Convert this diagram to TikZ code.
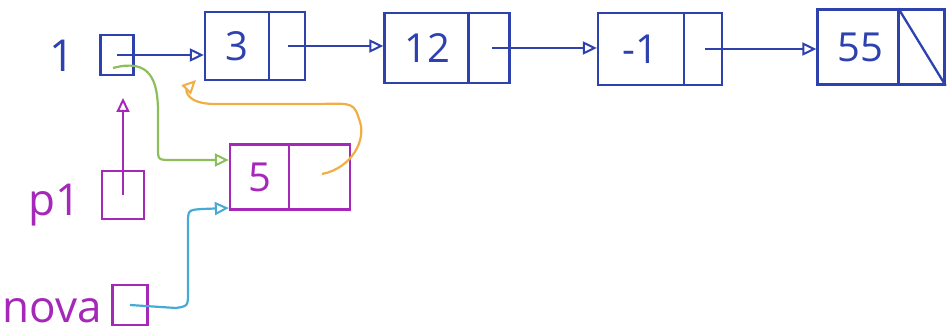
\documentclass[tikz,border=0pt]{standalone}
\usepackage{fontspec}
\setmainfont{Open Sans}
\usetikzlibrary{arrows.meta}
\definecolor{penblue}{RGB}{45,65,175}
\definecolor{penpurple}{RGB}{165,40,185}
\definecolor{pengreen}{RGB}{140,190,90}
\definecolor{penorange}{RGB}{240,175,70}
\definecolor{pencyan}{RGB}{70,170,215}
\tikzset{
  cell/.style={draw, line width=2.3pt, minimum width=#1, inner sep=0pt},
  val/.style={font=\fontsize{40}{44}\selectfont, inner sep=0pt},
  lbl/.style={font=\fontsize{44}{48}\selectfont, inner sep=0pt},
  ptr/.style={line width=2.2pt, -{Triangle[open,length=14pt,width=13pt,line width=2pt]}},
  div/.style={line width=2.3pt},
}
\begin{document}
\begin{tikzpicture}[x=1pt,y=-1pt]
\useasboundingbox (0,0) rectangle (952,331);
% list nodes (blue)
\begin{scope}[penblue]
\node[cell=100pt, minimum height=68pt] (n3) at (255,46) {};
\node[cell=125pt, minimum height=70pt] (n12) at (447,48) {};
\node[cell=124pt, minimum height=72pt] (nm1) at (660,49) {};
\node[cell=127pt, minimum height=75pt] (n55) at (881,47) {};
\draw[div] (n3.north west) ++(65,0) coordinate (d3t) -- (d3t |- n3.south);
\draw[div] (n12.north west) ++(85,0) coordinate (d12t) -- (d12t |- n12.south);
\draw[div] (nm1.north west) ++(87,0) coordinate (dm1t) -- (dm1t |- nm1.south);
\draw[div] (n55.north west) ++(82,0) coordinate (d55t) -- (d55t |- n55.south);
\draw[div] (d55t) -- (n55.south east);
\node[val] (v3) at (237,46) {3};
\node[val] (v12) at (427,48) {12};
\node[val] (vm1) at (640,49) {-1};
\node[val] (v55) at (860,47) {55};
\node[cell=33pt, minimum height=40pt] (l) at (117,55) {};
\node[lbl, anchor=base] (llbl) at (62,72) {1};
\coordinate (p3) at (288,46);
\coordinate (p12) at (492,48);
\coordinate (pm1) at (705,49);
\draw[ptr] (l.center) -- (n3.west |- l.center);
\draw[ptr] (p3) -- (n12.west |- p3);
\draw[ptr] (p12) -- (nm1.west |- p12);
\draw[ptr] (pm1) -- (n55.west |- pm1);
\end{scope}
% new node and pointers (purple)
\begin{scope}[penpurple]
\node[cell=120pt, minimum height=65pt] (n5) at (290,177) {};
\draw[div] (n5.north west) ++(60,0) coordinate (d5t) -- (d5t |- n5.south);
\node[val] (v5) at (260,177) {5};
\node[cell=42pt, minimum height=48pt] (p1) at (123,195) {};
\node[lbl, anchor=base] (p1lbl) at (55,215) {p1};
\node[cell=35pt, minimum height=40pt] (nova) at (130,305) {};
\node[lbl, anchor=base] (novalbl) at (52,322) {nova};
\coordinate (p1tip) at (123,98);
\draw[ptr] (p1.center) -- (p1tip);
\end{scope}
% green: l -> n5
\coordinate (lg) at (113,68);
\draw[ptr, pengreen] (lg) .. controls (150,58) and (158,80) .. (158,112) -- (158,148) .. controls (158,160) .. (172,160) -- (n5.west |- 0,160);
% orange: n5.next -> n3
\coordinate (o5) at (322,174);
\coordinate (o3) at (196,80);
\draw[ptr, penorange] (o5) .. controls (352,168) and (366,140) .. (360,122) .. controls (354,103) .. (320,104) -- (215,104) .. controls (186,104) and (186,90) .. (o3);
% cyan: nova -> n5
\draw[ptr, pencyan] (nova.center) -- (176,308) .. controls (188,306) .. (188,292) -- (188,224) .. controls (188,210) .. (202,209) -- (n5.west |- 0,208);
\end{tikzpicture}
\end{document}
